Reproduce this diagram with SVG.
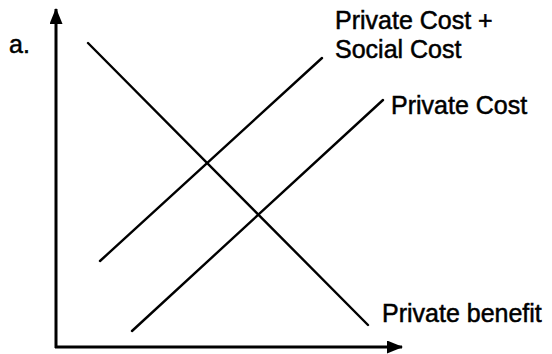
<svg xmlns="http://www.w3.org/2000/svg" width="552" height="354" viewBox="0 0 552 354">
  <style>
    .axis { stroke: #000; stroke-width: 3; fill: none; }
    .curve { stroke: #000; stroke-width: 2.4; fill: none; stroke-linecap: round; }
    .lbl { font-family: "Liberation Sans", Arial, sans-serif; font-size: 25px; fill: #000; stroke: #000; stroke-width: 0.5; }
  </style>
  <defs>
    <marker id="arrow" markerUnits="userSpaceOnUse" markerWidth="16" markerHeight="13" refX="15" refY="6.5" orient="auto">
      <path d="M0,0 L16,6.5 L0,13 Z" fill="#000"/>
    </marker>
  </defs>
  <rect width="552" height="354" fill="#fff"/>

  <!-- axes -->
  <g id="axes">
    <line class="axis" x1="56" y1="348" x2="56" y2="9" marker-end="url(#arrow)"/>
    <line class="axis" x1="55" y1="347" x2="402" y2="347" marker-end="url(#arrow)"/>
  </g>

  <text class="lbl" x="9" y="53">a.</text>

  <!-- curves -->
  <g id="connectors">
    <line class="curve" x1="88" y1="43" x2="368" y2="325"/>
    <line class="curve" x1="100" y1="261" x2="322" y2="58"/>
    <line class="curve" x1="132" y1="331" x2="383" y2="100"/>
  </g>

  <g id="label-private-social">
    <text class="lbl" x="335" y="29">Private Cost +</text>
    <text class="lbl" x="335" y="58">Social Cost</text>
  </g>
  <g id="label-private-cost">
    <text class="lbl" x="391" y="114">Private Cost</text>
  </g>
  <g id="label-private-benefit">
    <text class="lbl" x="382" y="322">Private benefit</text>
  </g>
</svg>
